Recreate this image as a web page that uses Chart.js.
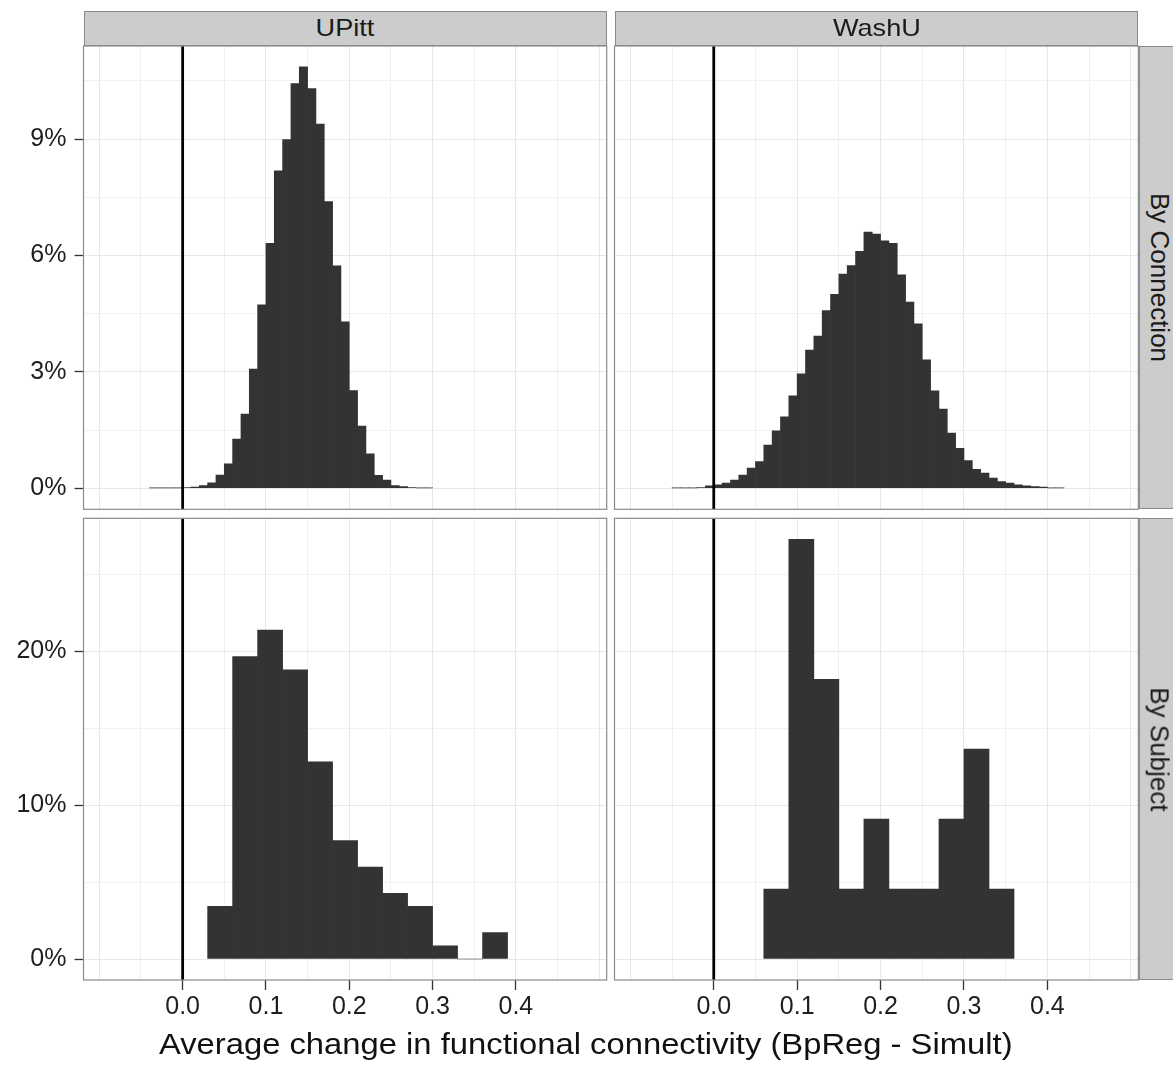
<!DOCTYPE html>
<html>
<head>
<meta charset="utf-8">
<script src="https://cdn.jsdelivr.net/npm/chart.js@4.4.1/dist/chart.umd.min.js"></script>
<style>
body { margin: 0; background: #fff; }
#fig { position: relative; width: 1173px; height: 1066px; overflow: hidden; font-family: "Liberation Sans", Arial, sans-serif; }
#fig canvas { position: absolute; left: 0; top: 0; }
.strip { position: absolute; background: #cccccc; border: 1px solid #8a8a8a; box-sizing: border-box;
         display: flex; align-items: center; justify-content: center; color: #1a1a1a; overflow: hidden; }
.strip.top span { font-size: 24px; transform: scaleX(1.13); display: block; white-space: nowrap; }
.strip.side span { font-size: 26px; transform: rotate(90deg); white-space: nowrap; display: block; }
#xtitle { position: absolute; left: 0; width: 1172px; text-align: center; line-height: 1; color: #111; }
#xtitle span { display: inline-block; font-size: 29px; transform: scaleX(1.13); white-space: nowrap; }
</style>
</head>
<body>
<div id="fig">
  <canvas id="c0" width="1173" height="1066"></canvas>
  <canvas id="c1" width="1173" height="1066"></canvas>
  <canvas id="c2" width="1173" height="1066"></canvas>
  <canvas id="c3" width="1173" height="1066"></canvas>
  <div class="strip top" id="s0"><span></span></div>
  <div class="strip top" id="s1"><span></span></div>
  <div class="strip side" id="s2"><span></span></div>
  <div class="strip side" id="s3"><span></span></div>
  <div id="xtitle"><span></span></div>
</div>
<script>
// facet labels
var sites = ['UPitt', 'WashU'];
var rowLabels = ['By Connection', 'By Subject'];
var xTitle = 'Average change in functional connectivity (BpReg - Simult)';

// axes
var xRange = [-0.119, 0.509];
var xTicks = [0, 0.1, 0.2, 0.3, 0.4];
var xGridStep = 0.05;
var connYRange = [-0.543, 11.40];
var connYTicks = [0, 3, 6, 9];
var subjYRange = [-1.364, 28.64];
var subjYTicks = [0, 10, 20];
var vlineX = 0;

// histograms (percent of total), by connection: bins of 0.01
var connBinWidth = 0.01;
var upittConnStart = -0.04;
var upittConn = [0.01, 0.01, 0.01, 0.01,
    0.02, 0.03, 0.07, 0.14, 0.34, 0.63, 1.27, 1.91, 3.07, 4.73,
    6.31, 8.18, 8.99, 10.43, 10.86, 10.30, 9.39, 7.39, 5.73, 4.29,
    2.52, 1.60, 0.89, 0.33, 0.21, 0.07, 0.04, 0.02, 0.01, 0.01];
var washuConnStart = -0.05;
var washuConn = [0.01, 0.01, 0.01, 0.02, 0.06,
    0.09, 0.13, 0.21, 0.34, 0.52, 0.69, 1.11, 1.48, 1.84, 2.38,
    2.95, 3.56, 3.92, 4.58, 5.00, 5.52, 5.74, 6.11, 6.60, 6.55,
    6.38, 6.31, 5.50, 4.80, 4.24, 3.31, 2.51, 2.04, 1.42, 1.03,
    0.71, 0.49, 0.39, 0.26, 0.17, 0.13, 0.09, 0.06, 0.04, 0.03,
    0.01, 0.01];

// by subject: bins of 0.03
var subjBinWidth = 0.03;
var upittSubjStart = 0.03;
var upittSubj = [3.42, 19.66, 21.37, 18.80, 12.82, 7.69, 5.98, 4.27, 3.42, 0.85, 0, 1.71];
var washuSubjStart = 0.06;
var washuSubj = [4.55, 27.27, 18.18, 4.55, 9.09, 4.55, 4.55, 9.09, 13.64, 4.55];

// layout of the facet grid (pixels)
var W = 1173, H = 1066;
var colX = [[83.5, 606.7], [614.5, 1138.3]];
var rowY = [[46, 509.3], [518.3, 980]];
var yAxisW = 80, xAxisH = 50;
var FONT = "'Liberation Sans', Arial, sans-serif";

function binCenters(start, width, n) {
    var out = [];
    for (var i = 0; i < n; i++) out.push(Math.round((start + width * (i + 0.5)) * 10000) / 10000);
    return out;
}
function isTick(v, list) {
    return list.some(function (t) { return Math.abs(t - v) < 1e-9; });
}
// major + minor grid positions inside a range
function gridTicks(min, max, step) {
    var out = [];
    for (var k = Math.ceil(min / step - 1e-9); k * step <= max + 1e-9; k++) {
        out.push({ value: Math.round(k * step * 1e6) / 1e6 });
    }
    return out;
}

var panelBorder = {
    id: 'panelBorder',
    afterDraw: function (chart) {
        var a = chart.chartArea, ctx = chart.ctx;
        ctx.save();
        ctx.strokeStyle = '#8a8a8a';
        ctx.lineWidth = 1.2;
        ctx.strokeRect(a.left, a.top, a.right - a.left, a.bottom - a.top);
        ctx.restore();
    }
};

var rows = [
    { range: connYRange, ticks: connYTicks, step: 1.5 },
    { range: subjYRange, ticks: subjYTicks, step: 5 }
];

var panels = [
    { id: 'c0', col: 0, row: 0, start: upittConnStart, width: connBinWidth, values: upittConn },
    { id: 'c1', col: 1, row: 0, start: washuConnStart, width: connBinWidth, values: washuConn },
    { id: 'c2', col: 0, row: 1, start: upittSubjStart, width: subjBinWidth, values: upittSubj },
    { id: 'c3', col: 1, row: 1, start: washuSubjStart, width: subjBinWidth, values: washuSubj }
];

panels.forEach(function (p) {
    var r = rows[p.row];
    var showY = p.col === 0, showX = p.row === 1;
    var x0 = colX[p.col][0], x1 = colX[p.col][1];
    var y0 = rowY[p.row][0], y1 = rowY[p.row][1];
    var centers = binCenters(p.start, p.width, p.values.length);

    new Chart(document.getElementById(p.id), {
        type: 'bar',
        data: {
            datasets: [{
                type: 'line',
                data: [{ x: vlineX, y: r.range[0] }, { x: vlineX, y: r.range[1] }],
                borderColor: '#000',
                borderWidth: 2.8,
                pointRadius: 0,
                order: 0
            }, {
                type: 'bar',
                data: centers.map(function (x, i) { return { x: x, y: p.values[i] }; }),
                backgroundColor: '#333333',
                borderWidth: 0,
                barPercentage: 1,
                categoryPercentage: 1,
                order: 1
            }]
        },
        options: {
            responsive: false,
            animation: false,
            events: [],
            layout: { padding: {
                left: x0 - (showY ? yAxisW : 0),
                top: y0,
                right: W - x1,
                bottom: H - y1 - (showX ? xAxisH : 0)
            } },
            plugins: { legend: { display: false }, tooltip: { enabled: false } },
            scales: {
                x: {
                    type: 'linear',
                    min: xRange[0], max: xRange[1],
                    offset: false,
                    border: { display: false },
                    grid: {
                        offset: false,
                        drawTicks: showX,
                        tickLength: 10,
                        tickWidth: 1.3,
                        tickColor: function (c) { return isTick(c.tick.value, xTicks) ? '#333' : 'rgba(0,0,0,0)'; },
                        color: function (c) { return Math.abs(c.tick.value * 10 - Math.round(c.tick.value * 10)) < 1e-6 ? '#e4e7eb' : '#f0f1f4'; },
                        lineWidth: 1
                    },
                    ticks: {
                        display: showX,
                        autoSkip: false,
                        maxRotation: 0,
                        padding: 2,
                        color: '#1e1e1e',
                        font: { family: FONT, size: 25 },
                        callback: function (v) { return isTick(v, xTicks) ? v.toFixed(1) : ''; }
                    },
                    afterBuildTicks: function (s) { s.ticks = gridTicks(xRange[0], xRange[1], xGridStep); },
                    afterFit: function (s) { s.height = showX ? xAxisH : 0; }
                },
                y: {
                    min: r.range[0], max: r.range[1],
                    border: { display: false },
                    grid: {
                        drawTicks: showY,
                        tickLength: 9,
                        tickWidth: 1.3,
                        tickColor: function (c) { return isTick(c.tick.value, r.ticks) ? '#333' : 'rgba(0,0,0,0)'; },
                        color: function (c) { return isTick(c.tick.value, r.ticks) ? '#e4e7eb' : '#f0f1f4'; },
                        lineWidth: 1
                    },
                    ticks: {
                        display: showY,
                        autoSkip: false,
                        padding: 8,
                        color: '#1e1e1e',
                        font: { family: FONT, size: 25 },
                        callback: function (v) { return isTick(v, r.ticks) ? v + '%' : ''; }
                    },
                    afterBuildTicks: function (s) { s.ticks = gridTicks(r.range[0], r.range[1], r.step); },
                    afterFit: function (s) { s.width = showY ? yAxisW : 0; }
                }
            }
        },
        plugins: [panelBorder]
    });
});

// facet strips
function place(el, l, t, w, h) {
    el.style.left = l + 'px'; el.style.top = t + 'px';
    el.style.width = w + 'px'; el.style.height = h + 'px';
}
[0, 1].forEach(function (i) {
    var s = document.getElementById('s' + i);
    s.firstChild.textContent = sites[i];
    place(s, colX[i][0], 10.7, colX[i][1] - colX[i][0], rowY[0][0] - 10.7);
    var side = document.getElementById('s' + (i + 2));
    side.firstChild.textContent = rowLabels[i];
    place(side, 1139.3, rowY[i][0], 40, rowY[i][1] - rowY[i][0]);
});
var xt = document.getElementById('xtitle');
xt.firstChild.textContent = xTitle;
xt.style.top = '1030px';
</script>
</body>
</html>
